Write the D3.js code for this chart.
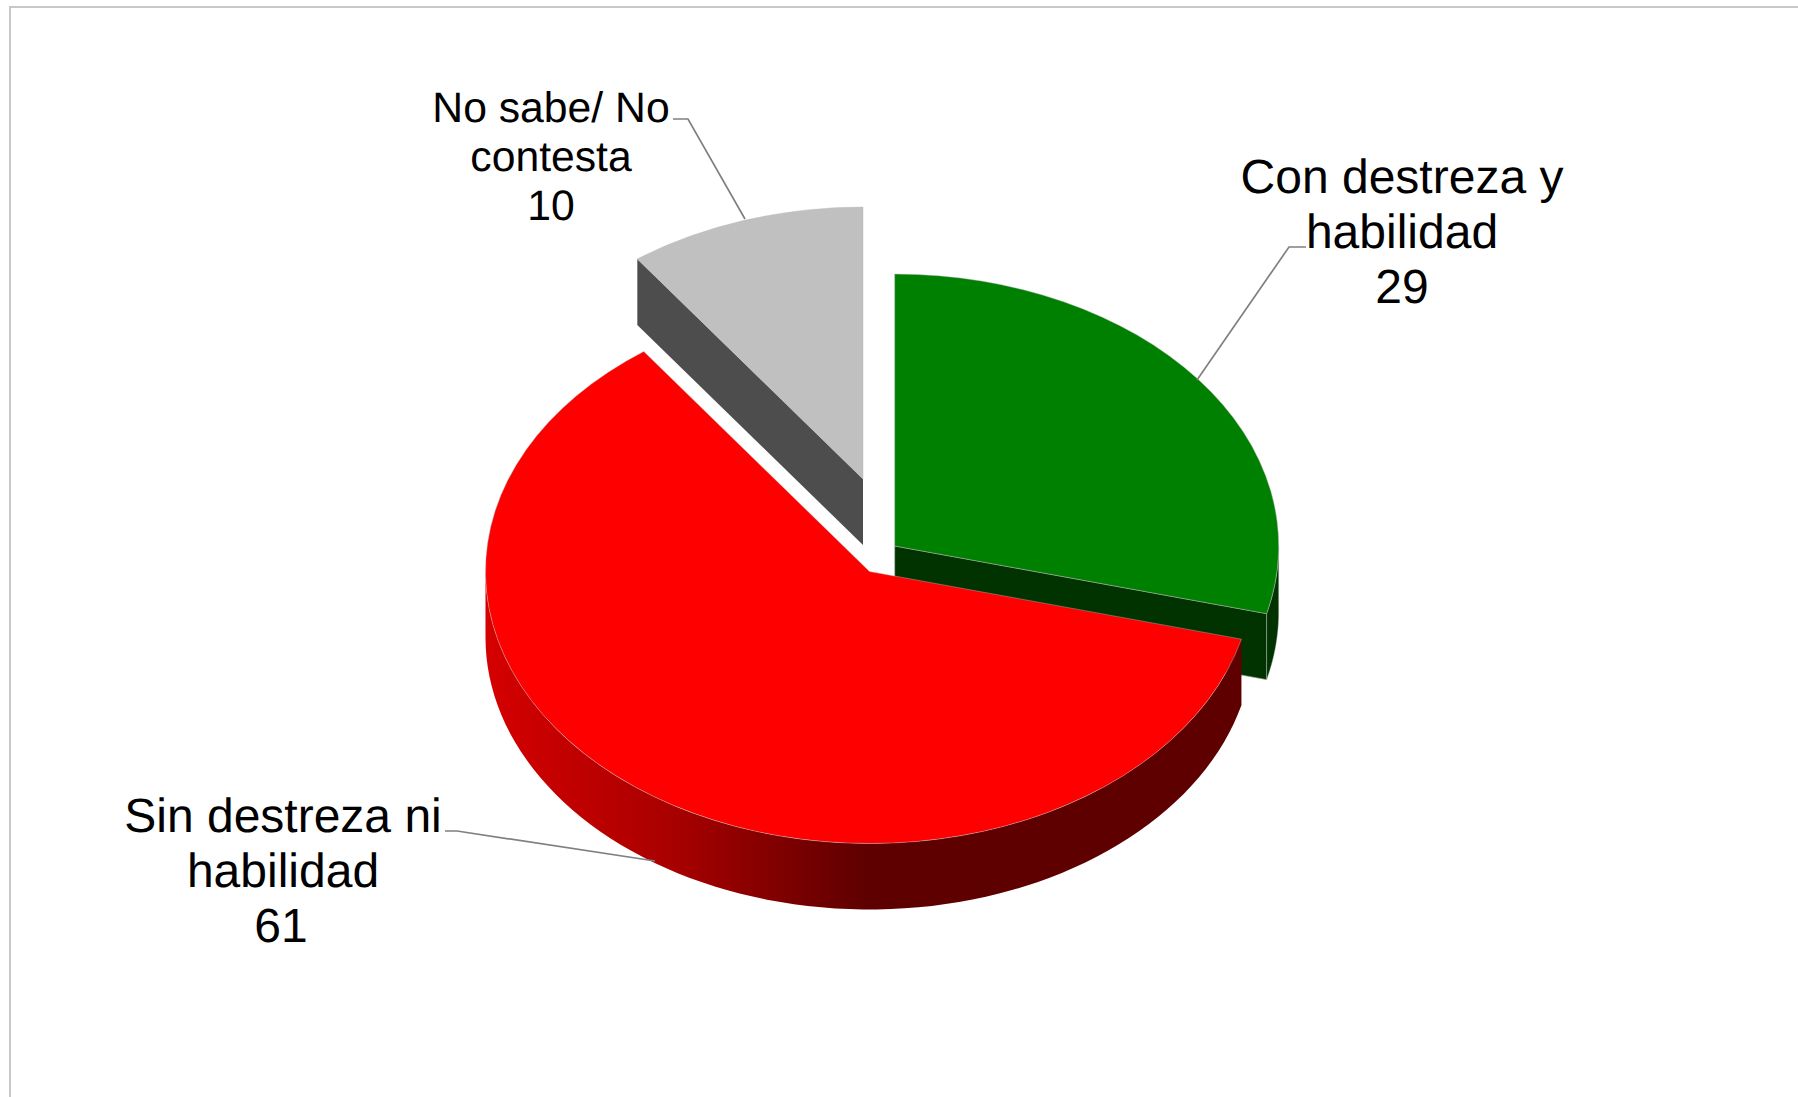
<!DOCTYPE html>
<html><head><meta charset="utf-8">
<script src="https://cdnjs.cloudflare.com/ajax/libs/d3/7.8.5/d3.min.js"></script>
<style>html,body{margin:0;padding:0;background:#fff;overflow:hidden}svg{display:block}</style>
</head><body><svg id="c" width="1798" height="1097"></svg>
<script>
const categories = ["Con destreza y habilidad", "Sin destreza ni habilidad", "No sabe/ No contesta"];
const values = [29, 61, 10];
const labelLines = [["Con destreza y", "habilidad", "29"], ["Sin destreza ni", "habilidad", "61"], ["No sabe/ No", "contesta", "10"]];
const faceColors = ["#008000", "#ff0000", "#c0c0c0"];
const cutColors = ["#003300", "#660000", "#4d4d4d"];
const centers = [[894.7, 546], [869.5, 571.5], [863, 479]];
const labelSizes = [48, 48, 42.7];
const labelX = [1402, 283, 551];
const labelY = [193, 832, 121.5];
const lastLineDx = [0, -2, 0];
const leaders = [[[1306,247],[1289,247],[1197,380]], [[445,831],[457,831],[655,861]], [[673,119],[688,119],[745,219]]];

const rx = 384, ry = 272, depth = 66;
const svg = d3.select("#c");
const defs = svg.append("defs");
const grad = defs.append("linearGradient").attr("id","redWall").attr("gradientUnits","userSpaceOnUse")
  .attr("x1",485).attr("x2",1243).attr("y1",0).attr("y2",0);
[[0,"#d60000"],[0.25,"#a80000"],[0.5,"#5f0000"],[1,"#5f0000"]].forEach(s=>grad.append("stop").attr("offset",s[0]).attr("stop-color",s[1]));

// frame
svg.append("path").attr("d","M10,1097V7H1798").attr("fill","none").attr("stroke","#c8c8c8").attr("stroke-width",2);

const arcs = d3.pie().sort(null).value(d=>d)(values);
const arc = d3.arc().innerRadius(0).outerRadius(rx);
const sx = d3.scaleLinear().domain([-1,1]).range([-rx,rx]);
const sy = d3.scaleLinear().domain([-1,1]).range([-ry,ry]);
const pt = (a,c,dy=0)=>[c[0]+sx(Math.sin(a)), c[1]+sy(-Math.cos(a))+dy];
const line = d3.line();
function wall(c,a0,a1){
  const n=80, top=[], bottom=[];
  d3.range(n+1).forEach(i=>{const a=a0+(a1-a0)*i/n; top.push(pt(a,c)); bottom.push(pt(a,c,depth));});
  return line(top.concat(bottom.reverse()))+"Z";
}
function cut(c,a){
  const p=pt(a,c);
  return line([c,p,[p[0],p[1]+depth],[c[0],c[1]+depth]])+"Z";
}
const edge = "#b9b9b9";
const order=[2,0,1];
order.forEach(i=>{
  const d=arcs[i], c=centers[i], g=svg.append("g");
  if(i===2){
    g.append("path").attr("d",cut(c,d.startAngle)).attr("fill",cutColors[2]);
  }
  if(i===0){
    g.append("path").attr("d",cut(c,d.endAngle)).attr("fill",cutColors[0]).attr("stroke",edge).attr("stroke-width",.6);
    g.append("path").attr("d",wall(c,Math.PI/2,d.endAngle)).attr("fill",cutColors[0]).attr("stroke",edge).attr("stroke-width",.4);
  }
  if(i===1){
    g.append("path").attr("d",wall(c,d.startAngle,Math.PI*1.5)).attr("fill","url(#redWall)");
  }
  g.append("path").attr("d",arc(d))
    .attr("transform",`translate(${c[0]},${c[1]}) scale(1,${ry/rx})`)
    .attr("fill",faceColors[i]).attr("stroke",edge).attr("stroke-opacity",.55).attr("stroke-width",.8)
    .attr("vector-effect","non-scaling-stroke");
});
leaders.forEach(l=>svg.append("path").attr("d",line(l)).attr("fill","none").attr("stroke","#808080").attr("stroke-width",1.7));
labelLines.forEach((ls,i)=>{
  const t=svg.append("text").attr("text-anchor","middle").attr("font-family","'Liberation Sans',Arial,sans-serif")
    .attr("text-rendering","geometricPrecision")
    .attr("font-size",labelSizes[i]).attr("fill","#000");
  ls.forEach((s,j)=>t.append("tspan").attr("x",labelX[i]+(j===2?lastLineDx[i]:0)).attr("y",labelY[i]+j*labelSizes[i]*1.15).text(s));
});
</script></body></html>
